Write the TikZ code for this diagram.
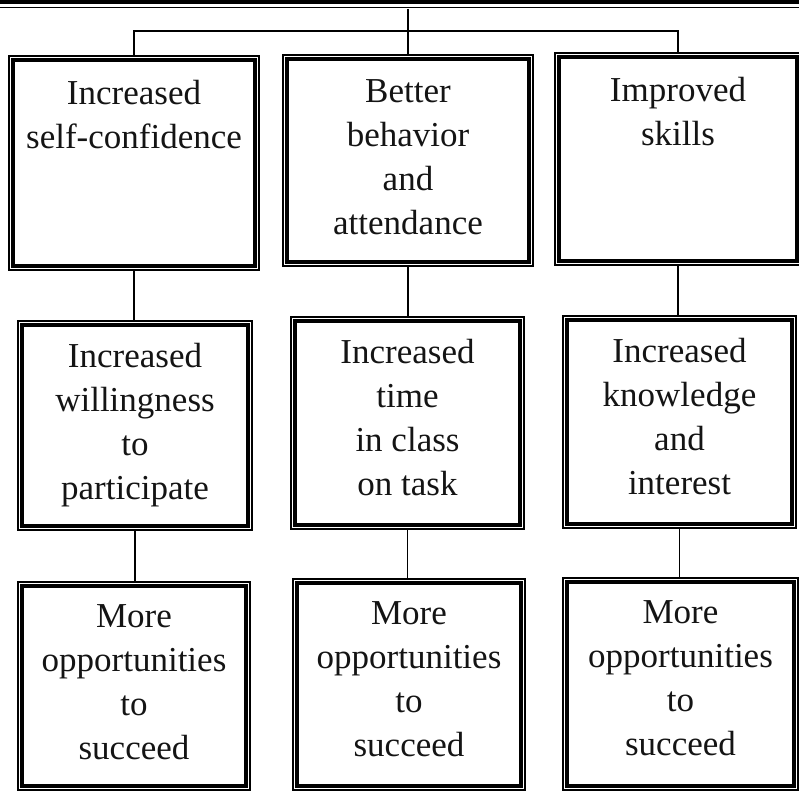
\documentclass[tikz,border=0pt]{standalone}
\usepackage{fontspec}
\setmainfont{Liberation Serif}
\usetikzlibrary{fit}
\tikzset{
  outerbox/.style={draw=black, line width=1.3pt, rectangle, inner sep=0pt},
  innerline/.style={draw=black, line width=3.8pt},
  conn/.style={draw=black, line width=1.4pt},
  lbl/.style={align=center, inner sep=0pt, font=\fontsize{35}{44}\selectfont, text=black!92}
}
\newcommand\mybox[5]{%
  \node[outerbox, fit={(#2,#3) (#4,#5)}] (#1) {};
  \draw[innerline] ([shift={(5pt,-5pt)}]#1.north west) rectangle ([shift={(-5pt,5pt)}]#1.south east);}
\begin{document}
\begin{tikzpicture}[x=1pt,y=-1pt]
\useasboundingbox (0,0) rectangle (799,791);
% cut-off box above
\coordinate (tl) at (-10,2);
\coordinate (tr) at (810,2);
\draw[innerline] (tl) -- (tr);
\draw[line width=1pt] ([yshift=-6pt]tl) -- ([yshift=-6pt]tr);
\coordinate (top) at (408,9);
\coordinate (hj) at (408,31);
% boxes
\mybox{A1}{9}{56}{259}{270}
\mybox{B1}{283}{55}{533}{266}
\mybox{C1}{555}{53}{801}{265}
\mybox{A2}{18}{321}{252}{530}
\mybox{B2}{291}{317}{524}{529}
\mybox{C2}{563}{316}{796}{528}
\mybox{A3}{18}{582}{250}{790}
\mybox{B3}{293}{579}{525}{790}
\mybox{C3}{563}{578}{798}{790}
% texts
\node[lbl, anchor=north] (tA1) at ([yshift=-25pt]A1.north) {Increased\\self-confidence};
\node[lbl, anchor=north] (tB1) at ([yshift=-25pt]B1.north) {Better\\behavior\\and\\attendance};
\node[lbl, anchor=north] (tC1) at ([yshift=-25pt]C1.north) {Improved\\skills};
\node[lbl, anchor=north] (tA2) at ([yshift=-23pt]A2.north) {Increased\\willingness\\to\\participate};
\node[lbl, anchor=north] (tB2) at ([yshift=-23pt]B2.north) {Increased\\time\\in class\\on task};
\node[lbl, anchor=north] (tC2) at ([yshift=-23pt]C2.north) {Increased\\knowledge\\and\\interest};
\node[lbl, anchor=north] (tA3) at ([yshift=-23pt]A3.north) {More\\opportunities\\to\\succeed};
\node[lbl, anchor=north] (tB3) at ([yshift=-23pt]B3.north) {More\\opportunities\\to\\succeed};
\node[lbl, anchor=north] (tC3) at ([yshift=-23pt]C3.north) {More\\opportunities\\to\\succeed};
% connectors
\draw[conn] (top) -- (B1.north);
\draw[conn] (A1.north) -- (A1.north |- hj) -- (C1.north |- hj) -- (C1.north);
\draw[conn] (A1.south) -- (A1.south |- A2.north);
\draw[conn] (B1.south) -- (B1.south |- B2.north);
\draw[conn] (C1.south) -- (C1.south |- C2.north);
\draw[conn] (A2.south) -- (A2.south |- A3.north);
\draw[conn] (B2.south) -- (B2.south |- B3.north);
\draw[conn] (C2.south) -- (C2.south |- C3.north);
\end{tikzpicture}
\end{document}
